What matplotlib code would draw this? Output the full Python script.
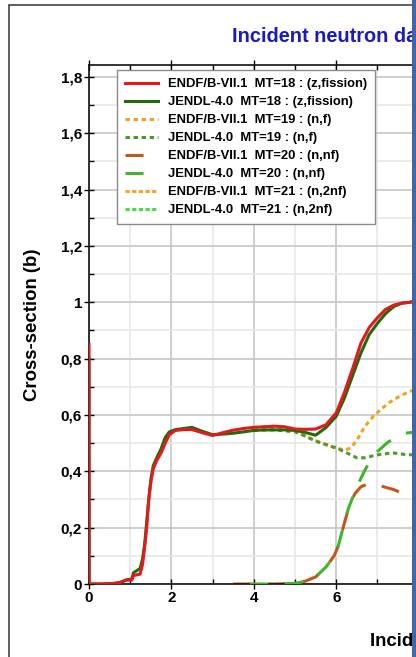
import matplotlib
matplotlib.use("Agg")
import matplotlib.pyplot as plt
from matplotlib.ticker import MultipleLocator, FuncFormatter
from matplotlib.patches import Rectangle

plt.rcParams["font.family"] = ["Liberation Sans", "DejaVu Sans"]
plt.rcParams["font.weight"] = "bold"
plt.rcParams["lines.scale_dashes"] = False

# ENDF/B-VII.1 MT=18 total fission (MeV, barn)
e_endf18 = [0, 0.003, 0.01, 0.3, 0.6, 0.75, 0.9, 1.04, 1.08, 1.24, 1.3, 1.35, 1.4, 1.45, 1.5,
            1.56, 1.65, 1.75, 1.85, 1.95, 2.1, 2.3, 2.5, 2.75, 3.0, 3.25, 3.5, 3.75, 4.0, 4.25,
            4.5, 4.75, 5.0, 5.25, 5.5, 5.75, 6.0, 6.2, 6.4, 6.6, 6.8, 7.0, 7.2, 7.4, 7.6, 7.8, 8.0]
s_endf18 = [0.85, 0.01, 0.0, 0.0, 0.002, 0.005, 0.014, 0.014, 0.03, 0.035, 0.07, 0.13, 0.2, 0.3, 0.36,
            0.41, 0.44, 0.465, 0.5, 0.53, 0.545, 0.548, 0.548, 0.537, 0.527, 0.537, 0.546, 0.552, 0.556, 0.558,
            0.56, 0.558, 0.55, 0.549, 0.55, 0.565, 0.607, 0.68, 0.765, 0.855, 0.91, 0.945, 0.975, 0.99, 0.997, 1.0, 1.01]
# JENDL-4.0 MT=18
e_jendl18 = e_endf18
s_jendl18 = [0.8, 0.01, 0.0, 0.0, 0.002, 0.005, 0.014, 0.018, 0.04, 0.055, 0.09, 0.14, 0.22, 0.3, 0.37,
             0.42, 0.45, 0.48, 0.52, 0.54, 0.548, 0.552, 0.556, 0.542, 0.53, 0.532, 0.535, 0.54, 0.545, 0.547,
             0.547, 0.547, 0.545, 0.538, 0.528, 0.555, 0.595, 0.66, 0.74, 0.82, 0.885, 0.925, 0.96, 0.985, 0.997, 1.0, 1.01]

# MT=19 first chance fission
e_endf19 = [4.0, 4.5, 4.96, 5.25, 5.45, 5.75, 5.93, 6.2, 6.35, 6.5, 6.7, 6.9, 7.1, 7.3, 7.5, 7.7, 7.9, 8.0]
s_endf19 = [0.556, 0.56, 0.547, 0.525, 0.512, 0.495, 0.485, 0.476, 0.482, 0.51, 0.56, 0.595, 0.622, 0.645, 0.663, 0.678, 0.69, 0.695]
e_jendl19 = [4.0, 4.5, 5.0, 5.25, 5.5, 5.75, 6.0, 6.25, 6.5, 6.7, 6.9, 7.1, 7.4, 7.7, 8.0]
s_jendl19 = [0.545, 0.547, 0.54, 0.525, 0.507, 0.495, 0.483, 0.466, 0.448, 0.448, 0.455, 0.461, 0.465, 0.459, 0.458]

# MT=20 second chance fission
e_endf20 = [3.5, 4.0, 4.5, 5.0, 5.25, 5.5, 5.75, 5.95, 6.05, 6.15, 6.3, 6.45, 6.6, 6.8, 7.0, 7.2, 7.4, 7.6, 7.8, 8.0]
s_endf20 = [0, 0, 0, 0.002, 0.01, 0.025, 0.06, 0.1, 0.135, 0.19, 0.27, 0.32, 0.345, 0.357, 0.352, 0.343, 0.335, 0.322, 0.312, 0.305]
e_jendl20 = [3.5, 4.0, 4.5, 5.0, 5.25, 5.5, 5.75, 5.95, 6.05, 6.15, 6.3, 6.45, 6.55, 6.7, 6.87, 7.0, 7.26, 7.5, 7.72, 8.0]
s_jendl20 = [0, 0, 0, 0.002, 0.01, 0.025, 0.06, 0.1, 0.135, 0.19, 0.27, 0.325, 0.36, 0.405, 0.447, 0.47, 0.504, 0.523, 0.536, 0.54]

# MT=21 third chance fission: above the visible energy range
e_endf21, s_endf21 = [], []
e_jendl21, s_jendl21 = [], []

labels = ["ENDF/B-VII.1  MT=18 : (z,fission)", "JENDL-4.0  MT=18 : (z,fission)",
          "ENDF/B-VII.1  MT=19 : (n,f)", "JENDL-4.0  MT=19 : (n,f)",
          "ENDF/B-VII.1  MT=20 : (n,nf)", "JENDL-4.0  MT=20 : (n,nf)",
          "ENDF/B-VII.1  MT=21 : (n,2nf)", "JENDL-4.0  MT=21 : (n,2nf)"]

W, H = 416, 657
fig = plt.figure(figsize=(W / 100, H / 100), dpi=100)
ax = fig.add_axes([89 / W, 73 / H, 824 / W, 519 / H])

lw = 2.2
ax.plot(e_endf18, s_endf18, color="#e4191c", lw=lw, label=labels[0], zorder=4)
ax.plot(e_jendl18, s_jendl18, color="#23690f", lw=lw, label=labels[1], zorder=3)
ax.plot(e_endf19, s_endf19, color="#f3a126", lw=lw, ls=(0, (3.2, 2.6)), label=labels[2], zorder=2.5)
ax.plot(e_jendl19, s_jendl19, color="#4f9a2c", lw=lw, ls=(0, (3.2, 2.6)), label=labels[3], zorder=2.6)
ax.plot(e_endf20, s_endf20, color="#c4561c", lw=lw, ls=(0, (13, 12)), label=labels[4], zorder=2.5)
ax.plot(e_jendl20, s_jendl20, color="#3eb52a", lw=lw, ls=(13, (13, 12)), label=labels[5], zorder=2.6)
ax.plot(e_endf21, s_endf21, color="#f7a420", lw=lw, ls=(0, (3.0, 1.8)), label=labels[6])
ax.plot(e_jendl21, s_jendl21, color="#45e03a", lw=lw, ls=(0, (3.0, 1.8)), label=labels[7])

ax.set_xlim(0, 20)
ax.set_ylim(0, 1.842)
ax.xaxis.set_major_locator(MultipleLocator(2))
ax.xaxis.set_minor_locator(MultipleLocator(1))
ax.yaxis.set_major_locator(MultipleLocator(0.2))
ax.yaxis.set_minor_locator(MultipleLocator(0.1))
fmt = FuncFormatter(lambda v, p: f"{v:g}".replace(".", ","))
ax.xaxis.set_major_formatter(fmt)
ax.yaxis.set_major_formatter(fmt)

ax.grid(which="major", color="#c6c6c6", lw=1.2)
ax.grid(which="minor", color="#e8e8e8", lw=1.2)
ax.set_axisbelow(True)
ax.tick_params(which="major", direction="inout", length=7, width=1, labelsize=11, pad=1.5, top=True)
ax.tick_params(which="minor", direction="in", length=3.5, width=1, top=True)
for s in ax.spines.values():
    s.set_linewidth(1.2)
    s.set_color("#111111")

leg = ax.legend(loc="upper left", bbox_to_anchor=(117 / W, 587 / H), bbox_transform=fig.transFigure,
                borderaxespad=0, fontsize=9.4, handlelength=2.5, handletextpad=0.8,
                labelspacing=0.45, borderpad=0.62, fancybox=False, framealpha=1)
leg.get_frame().set_edgecolor("#8a8a8a")
leg.get_frame().set_linewidth(1)
leg.get_lines()[5].set_linestyle((0, (13, 12)))

fig.text(232 / W, 1 - 41.7 / H, "Incident neutron data", ha="left", va="baseline",
         fontsize=14.4, weight="bold", color="#1a1abe")
fig.text(370 / W, 1 - 646 / H, "Incident energy (MeV)", ha="left", va="baseline",
         fontsize=13.4, weight="bold")
fig.text(33 / W, 1 - 325 / H, "Cross-section (b)", rotation=90, ha="center", va="center",
         fontsize=13.4, weight="bold")

fig.patches.append(Rectangle((9 / W, -0.1), 2, 1.1 - 5 / H, transform=fig.transFigure,
                             fill=False, ec="#333333", lw=1.1))
fig.patches.append(Rectangle((412 / W, 0), 4 / W, 1, transform=fig.transFigure,
                             fc="#3f67a8", ec="none", zorder=5))

fig.savefig("out.png", dpi=100)
